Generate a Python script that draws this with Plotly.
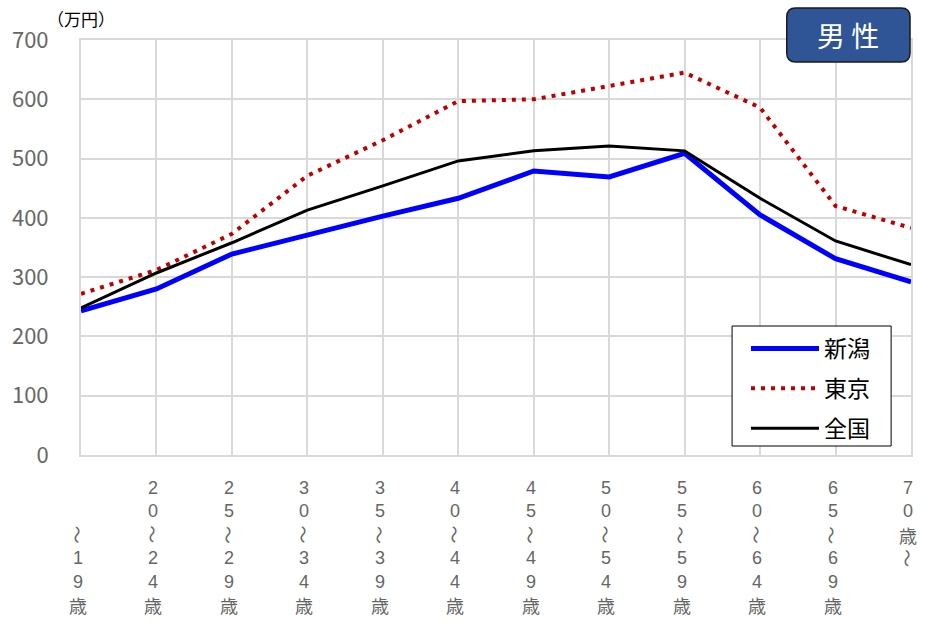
import plotly.graph_objects as go

categories = ["～19歳", "20～24歳", "25～29歳", "30～34歳", "35～39歳", "40～44歳",
              "45～49歳", "50～54歳", "55～59歳", "60～64歳", "65～69歳", "70歳～"]
niigata = [243, 280, 339, 372, 403, 433, 479, 469, 509, 405, 331, 292]
tokyo = [272, 312, 373, 471, 531, 597, 600, 622, 645, 586, 420, 383]
zenkoku = [248, 307, 358, 413, 454, 496, 513, 521, 513, 433, 361, 321]
y_ticks = [0, 100, 200, 300, 400, 500, 600, 700]

FONT = "Noto Sans CJK JP"
DIGIT_FONT = "Liberation Sans"
W, H = 925, 622
L, R, T, B = 78, 12, 40, 167
PW, PH = W - L - R, H - T - B

def px_x(px):
    return (px - L) / PW

def px_y(py):
    return (H - B - py) / PH

xs = list(range(len(categories)))

fig = go.Figure()
fig.add_trace(go.Scatter(x=xs, y=niigata, name="新潟", mode="lines",
                         line=dict(color="#0000FF", width=5), legendgroup="a"))
fig.add_trace(go.Scatter(x=xs, y=tokyo, name="東京", mode="lines",
                         line=dict(color="#C00000", width=4, dash="4px,6px"), legendgroup="b"))
fig.add_trace(go.Scatter(x=xs, y=zenkoku, name="全国", mode="lines",
                         line=dict(color="#000000", width=3), legendgroup="c"))

annotations = []
# x tick labels, stacked vertically character by character
line_h = 23.4
for i, lab in enumerate(categories):
    chars = list(lab)
    n = len(chars)
    last = (i == len(categories) - 1)
    for j, ch in enumerate(chars):
        line = j if last else (6 - n + j)
        py = 488 + line_h * line
        fam = DIGIT_FONT if ch.isdigit() else FONT
        annotations.append(dict(
            x=i, y=px_y(py), xref="x", yref="paper", text=ch, showarrow=False,
            xanchor="center", yanchor="middle", xshift=-3,
            borderpad=0,
            textangle=90 if ch == "～" else 0,
            font=dict(family=fam, size=18, color="#666666")))

annotations.append(dict(x=px_x(78), y=px_y(19), xref="paper", yref="paper",
                        text="（万円）", showarrow=False, xanchor="center", yanchor="middle",
                        font=dict(family=FONT, size=17, color="#000000")))

# 男性 badge
bx0, bx1, by0, by1 = px_x(788), px_x(912), px_y(62), px_y(8)
rx, ry = 9 / PW, 9 / PH
path = (f"M {bx0+rx},{by0} L {bx1-rx},{by0} Q {bx1},{by0} {bx1},{by0+ry} "
        f"L {bx1},{by1-ry} Q {bx1},{by1} {bx1-rx},{by1} L {bx0+rx},{by1} "
        f"Q {bx0},{by1} {bx0},{by1-ry} L {bx0},{by0+ry} Q {bx0},{by0} {bx0+rx},{by0} Z")
shapes = [
    dict(type="path", path=path, xref="paper", yref="paper",
         fillcolor="#2F5597", line=dict(color="#1a1a1a", width=1.5), layer="above"),
    # legend frame
    dict(type="rect", xref="paper", yref="paper",
         x0=px_x(733), x1=px_x(893), y0=px_y(446), y1=px_y(326),
         fillcolor="white", line=dict(color="#000000", width=1), layer="above"),
]
annotations.append(dict(x=(bx0 + bx1) / 2, y=(by0 + by1) / 2, xref="paper", yref="paper",
                        text="男 性", showarrow=False, xanchor="center", yanchor="middle",
                        font=dict(family=FONT, size=28, color="#FFFFFF")))

fig.update_layout(
    width=W, height=H,
    margin=dict(l=L, r=R, t=T, b=B),
    paper_bgcolor="white", plot_bgcolor="white",
    font=dict(family=FONT),
    xaxis=dict(range=[0, 11], tickvals=xs, showticklabels=False, showgrid=True,
               gridcolor="#D9D9D9", gridwidth=2, zeroline=False,
               showline=True, linecolor="#D9D9D9", linewidth=2, mirror=True, fixedrange=True),
    yaxis=dict(range=[0, 700], tickvals=y_ticks, showgrid=True, gridcolor="#D9D9D9",
               gridwidth=2, zeroline=False, showline=True, linecolor="#D9D9D9",
               linewidth=2, mirror=True, ticklabelstandoff=26,
               tickfont=dict(family=FONT, size=22, color="#666666")),
    legend=dict(x=px_x(747), y=px_y(327), xanchor="left", yanchor="top",
                bgcolor="rgba(0,0,0,0)", borderwidth=0,
                font=dict(family=FONT, size=23, color="#000000"),
                itemwidth=68, traceorder="grouped", tracegroupgap=7),
    showlegend=True,
    annotations=annotations,
    shapes=shapes,
)

fig.write_html("out.html", config={"displayModeBar": False},
               post_script="document.body.style.margin='0';document.body.style.overflow='hidden';")
